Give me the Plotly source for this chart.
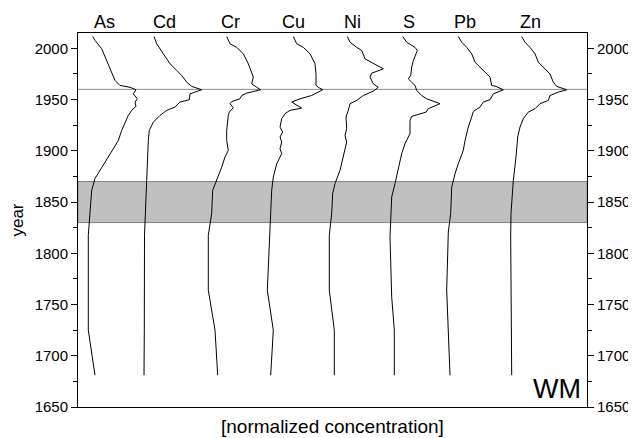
import plotly.graph_objects as go

# Depth profiles: x positions are normalized concentrations on an offset (stacked) scale
elements = ["As", "Cd", "Cr", "Cu", "Ni", "S", "Pb", "Zn"]
label_x = [104, 164, 230, 293, 352, 409, 465, 530]

as_year = [2011.6, 2007.7, 1999.6, 1988, 1975, 1968.7, 1963.8, 1962, 1959.6, 1955.6, 1950.8, 1947.6, 1943.4,
           1939.5, 1934.6, 1928, 1920, 1910, 1902, 1894, 1884, 1873, 1861.5, 1839, 1817.6, 1725, 1681]
as_val = [92.7, 95, 101.7, 106.7, 111.7, 115, 120, 130, 136, 133.3, 137.3, 135, 136,
          131.7, 128.3, 125, 121.7, 118.3, 113.3, 108.3, 101.7, 95, 91.7, 90, 88.3, 88.3, 95]

cd_year = [2011.6, 2004.5, 1994.7, 1985, 1978.5, 1973.6, 1967, 1962.9, 1959.6, 1955.6, 1949.9, 1947.6, 1942.7,
           1939.5, 1934.6, 1928, 1920, 1910, 1871, 1839, 1817.6, 1725, 1681]
cd_val = [154, 156.7, 163.3, 170, 176.7, 181.7, 186.7, 191.7, 201.7, 190, 189.3, 180, 175,
          166.7, 160, 153.3, 149.3, 148.3, 146.7, 145, 144.5, 144.3, 144]

cr_year = [2011.6, 2004.5, 2001, 1994.7, 1985, 1976.8, 1972, 1965.4, 1959.6, 1956.3, 1954, 1950.8, 1948, 1946,
           1942, 1937.8, 1934.6, 1920, 1910, 1900.5, 1894, 1884, 1871, 1861.5, 1839, 1817.6, 1764, 1725, 1681]
cr_val = [226.7, 230, 236.7, 243.3, 248.3, 251.7, 253.3, 251.7, 260.5, 246.7, 241.7, 240, 231.7, 230,
          233.3, 229.3, 228.3, 226.7, 226.7, 228.3, 225, 221.7, 216.7, 212.7, 211.7, 208.3, 208.3, 215, 217.7]

cu_year = [2011.6, 2004.5, 2001, 1994.7, 1985, 1975, 1963.8, 1962, 1959.6, 1954, 1950.8, 1947.6, 1941.7,
           1939.5, 1936.3, 1931.4, 1923.2, 1918.3, 1913.5, 1908.6, 1902, 1897.2, 1887.4, 1874.4, 1861.5,
           1839, 1816, 1764, 1725, 1681]
cu_val = [293.3, 296.7, 303.3, 310, 315, 316, 316, 318.3, 322.7, 311.7, 300, 291.7, 301.7,
          290, 285, 281.7, 280, 282.7, 280, 281.7, 280, 281.7, 276.7, 273.3, 271.7,
          270.7, 270, 267.3, 273.3, 270.7]

ni_year = [2011.6, 2006, 2001, 1998, 1989.8, 1980, 1975.8, 1972, 1965.4, 1962, 1958.3, 1954, 1949.2, 1946,
           1939.5, 1933, 1921.6, 1915, 1908.6, 1897.2, 1881, 1868, 1858.3, 1839, 1817.6, 1764, 1725, 1681]
ni_val = [347.3, 350, 356.7, 361.7, 365, 383.3, 371.7, 370, 373.3, 378.3, 373.3, 363.3, 356.7, 350,
          348.3, 346, 346.7, 345, 346.7, 344, 340, 335, 332.7, 331.7, 329.3, 329.3, 334.3, 334.3]

s_year = [2011.6, 2006, 2001, 1998, 1988, 1981.7, 1973.6, 1970.3, 1967, 1963.8, 1959, 1954, 1950.8, 1946,
          1941.1, 1937.8, 1933.6, 1929.7, 1916.8, 1907, 1897.2, 1881, 1868, 1855, 1839, 1816, 1757.5, 1725, 1681]
s_val = [402.7, 406.7, 415, 417.3, 413.3, 411.7, 410.7, 408.3, 411.7, 415, 416.7, 421.7, 426.7, 440,
         428.3, 426, 411.7, 410, 410, 405, 401.7, 398.3, 395, 391.7, 390.7, 390, 391.7, 394.3, 394.3]

pb_year = [2011.6, 2006, 2001, 1994.7, 1986.5, 1980, 1975, 1972, 1963.8, 1962.9, 1959.6, 1955.6, 1949.9,
           1947.6, 1942.7, 1938.5, 1933, 1923.2, 1910, 1900.5, 1887.4, 1877.6, 1864.5, 1839, 1820.8, 1764, 1681]
pb_val = [458.3, 461.7, 466.7, 471.7, 475, 481.7, 486.7, 490, 491.7, 496, 503.3, 493.3, 490,
          483.3, 480, 473.3, 471.7, 468.3, 465, 463.3, 458.3, 455, 451.7, 450.7, 448.3, 446.7, 450]

zn_year = [2011.6, 2006, 2001, 1994.7, 1986.5, 1980, 1975, 1967, 1962.9, 1959.6, 1957.3, 1954, 1949.2, 1946,
           1941.1, 1937.8, 1931.4, 1923.2, 1913.5, 1894, 1871, 1839, 1816, 1681]
zn_val = [521.7, 525, 530, 535, 538.3, 545, 550, 553.3, 556.7, 566.7, 558.3, 550, 548.3, 540,
          535, 528.3, 523.3, 520, 517.7, 516, 513.3, 511, 510.7, 511.7]

profiles = [(as_val, as_year), (cd_val, cd_year), (cr_val, cr_year), (cu_val, cu_year),
            (ni_val, ni_year), (s_val, s_year), (pb_val, pb_year), (zn_val, zn_year)]

band_years = [1830, 1870]
marker_year = 1960
y_range = [1650, 2015]
x_range = [78, 587]
y_ticks = [1650, 1700, 1750, 1800, 1850, 1900, 1950, 2000]

FONT = "Liberation Sans, Arial, sans-serif"

fig = go.Figure()
for name, (xv, yv) in zip(elements, profiles):
    fig.add_trace(go.Scatter(x=xv, y=yv, mode="lines", name=name,
                             line=dict(color="black", width=1), showlegend=False))
# invisible trace for right axis
fig.add_trace(go.Scatter(x=[x_range[0]], y=[y_range[0]], yaxis="y2", mode="markers",
                         marker=dict(opacity=0), showlegend=False, hoverinfo="skip"))

fig.add_shape(type="rect", xref="paper", yref="y", x0=0, x1=1, y0=band_years[0], y1=band_years[1],
              fillcolor="#c0c0c0", line=dict(color="#808080", width=1), layer="below")
fig.add_shape(type="line", xref="paper", yref="y", x0=0, x1=1, y0=marker_year, y1=marker_year,
              line=dict(color="#8c8c8c", width=1), layer="below")

for name, lx in zip(elements, label_x):
    fig.add_annotation(x=lx, y=1, xref="x", yref="paper", text=name, showarrow=False,
                       yanchor="bottom", yshift=-1, font=dict(size=18, color="black", family=FONT))

fig.add_annotation(x=1, y=0, xref="paper", yref="paper", text="WM", showarrow=False,
                   xanchor="right", yanchor="bottom", xshift=-4, yshift=1,
                   font=dict(size=27, color="black", family=FONT))
fig.add_annotation(x=0.5, y=0, xref="paper", yref="paper", text="[normalized concentration]",
                   showarrow=False, yanchor="top", yshift=-7,
                   font=dict(size=19, color="black", family=FONT))

axis_common = dict(range=y_range, tickvals=y_ticks, ticks="outside", ticklen=6, tickwidth=1,
                   tickcolor="black", showline=True, linecolor="black", linewidth=1,
                   showgrid=False, zeroline=False, automargin=False,
                   minor=dict(dtick=25, tick0=1650, ticks="outside", ticklen=4, tickcolor="black", showgrid=False),
                   tickfont=dict(size=15, color="black", family=FONT))

# page body has an 8px default margin (top/left), so the figure is sized/offset to compensate
fig.update_layout(
    width=628, height=430,
    margin=dict(l=70, r=49, t=25, b=31, autoexpand=False),
    plot_bgcolor="white", paper_bgcolor="white",
    font=dict(family=FONT, color="black"),
    xaxis=dict(range=x_range, showline=True, mirror=True, linecolor="black", linewidth=1,
               showticklabels=False, ticks="", showgrid=False, zeroline=False, automargin=False),
    yaxis=dict(**axis_common, side="left",
               title=dict(text="year", font=dict(size=17, color="black", family=FONT), standoff=6)),
    yaxis2=dict(**axis_common, side="right", overlaying="y"),
)

fig.write_html("out.html")
